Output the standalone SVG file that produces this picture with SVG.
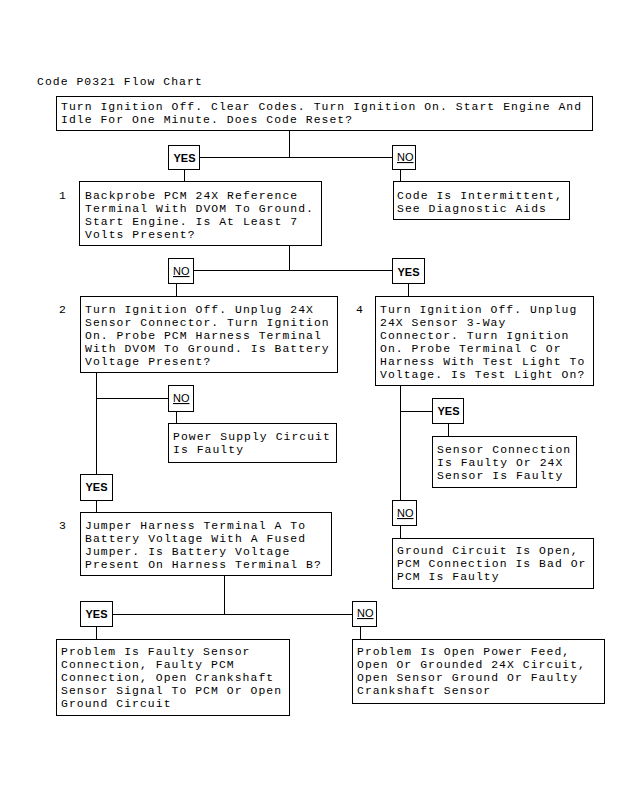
<svg xmlns="http://www.w3.org/2000/svg" width="631" height="791" viewBox="0 0 631 791">
<style>
  .bg{fill:#fff}
  .box{fill:#fff;stroke:#000;stroke-width:1}
  .t{font-family:"Liberation Mono","DejaVu Sans Mono",monospace;font-size:11.4px;letter-spacing:1.06px;fill:#000}
  .yes{font-family:"Liberation Sans",Arial,sans-serif;font-size:11px;font-weight:bold;fill:#000}
  .no{font-family:"Liberation Sans",Arial,sans-serif;font-size:11px;fill:#000;text-decoration:underline}
  .c line{stroke:#000;stroke-width:1}
</style>
<rect class="bg" x="0" y="0" width="631" height="791"/>
<text class="t" x="37" y="85">Code P0321 Flow Chart</text>

<g id="connectors" class="c">
  <line x1="289.5" y1="130.5" x2="289.5" y2="157.5"/>
  <line x1="199.5" y1="157.5" x2="392.5" y2="157.5"/>
  <line x1="184.5" y1="169.5" x2="184.5" y2="181.5"/>
  <line x1="400.5" y1="169.5" x2="400.5" y2="181.5"/>
  <line x1="289.5" y1="245.5" x2="289.5" y2="270.5"/>
  <line x1="193.5" y1="270.5" x2="392.5" y2="270.5"/>
  <line x1="176.5" y1="283.5" x2="176.5" y2="296.5"/>
  <line x1="408.5" y1="283.5" x2="408.5" y2="296.5"/>
  <line x1="96.5" y1="372.5" x2="96.5" y2="474.5"/>
  <line x1="96.5" y1="398.5" x2="168.5" y2="398.5"/>
  <line x1="176.5" y1="411.5" x2="176.5" y2="423.5"/>
  <line x1="96.5" y1="500.5" x2="96.5" y2="512.5"/>
  <line x1="224.5" y1="575.5" x2="224.5" y2="614.5"/>
  <line x1="112.5" y1="614.5" x2="352.5" y2="614.5"/>
  <line x1="96.5" y1="626.5" x2="96.5" y2="639.5"/>
  <line x1="360.5" y1="626.5" x2="360.5" y2="639.5"/>
  <line x1="400.5" y1="385.5" x2="400.5" y2="500.5"/>
  <line x1="400.5" y1="411.5" x2="432.5" y2="411.5"/>
  <line x1="448.5" y1="423.5" x2="448.5" y2="436.5"/>
  <line x1="400.5" y1="525.5" x2="400.5" y2="538.5"/>
</g>

<g id="start">
  <rect class="box" x="56.5" y="96.5" width="536" height="34"/>
  <text class="t" x="61" y="110">Turn Ignition Off. Clear Codes. Turn Ignition On. Start Engine And</text>
  <text class="t" x="61" y="123">Idle For One Minute. Does Code Reset?</text>
</g>

<g id="yes1"><rect class="box" x="168.5" y="145.5" width="31" height="24"/><text class="yes" x="173.5" y="162">YES</text></g>
<g id="no1"><rect class="box" x="392.5" y="145.5" width="23" height="24"/><text class="no" x="397" y="161">NO</text></g>

<g id="step1">
  <text class="t" x="59" y="199">1</text>
  <rect class="box" x="79.5" y="181.5" width="242" height="64"/>
  <text class="t" x="85" y="199">Backprobe PCM 24X Reference</text>
  <text class="t" x="85" y="212">Terminal With DVOM To Ground.</text>
  <text class="t" x="85" y="225">Start Engine. Is At Least 7</text>
  <text class="t" x="85" y="238">Volts Present?</text>
</g>

<g id="intermittent">
  <rect class="box" x="393.5" y="181.5" width="176" height="38"/>
  <text class="t" x="397" y="199">Code Is Intermittent,</text>
  <text class="t" x="397" y="212">See Diagnostic Aids</text>
</g>

<g id="no2"><rect class="box" x="168.5" y="258.5" width="25" height="25"/><text class="no" x="173" y="275">NO</text></g>
<g id="yes2"><rect class="box" x="392.5" y="258.5" width="32" height="25"/><text class="yes" x="397.5" y="276">YES</text></g>

<g id="step2">
  <text class="t" x="59" y="313">2</text>
  <rect class="box" x="80.5" y="296.5" width="257" height="76"/>
  <text class="t" x="85" y="313">Turn Ignition Off. Unplug 24X</text>
  <text class="t" x="85" y="326">Sensor Connector. Turn Ignition</text>
  <text class="t" x="85" y="339">On. Probe PCM Harness Terminal</text>
  <text class="t" x="85" y="352">With DVOM To Ground. Is Battery</text>
  <text class="t" x="85" y="365">Voltage Present?</text>
</g>

<g id="step4">
  <text class="t" x="356" y="313">4</text>
  <rect class="box" x="375.5" y="296.5" width="218" height="89"/>
  <text class="t" x="380" y="313">Turn Ignition Off. Unplug</text>
  <text class="t" x="380" y="326">24X Sensor 3-Way</text>
  <text class="t" x="380" y="339">Connector. Turn Ignition</text>
  <text class="t" x="380" y="352">On. Probe Terminal C Or</text>
  <text class="t" x="380" y="365">Harness With Test Light To</text>
  <text class="t" x="380" y="378">Voltage. Is Test Light On?</text>
</g>

<g id="no3"><rect class="box" x="168.5" y="385.5" width="25" height="26"/><text class="no" x="173" y="402">NO</text></g>

<g id="power">
  <rect class="box" x="168.5" y="423.5" width="168" height="39"/>
  <text class="t" x="173" y="440">Power Supply Circuit</text>
  <text class="t" x="173" y="453">Is Faulty</text>
</g>

<g id="yes3"><rect class="box" x="80.5" y="474.5" width="32" height="26"/><text class="yes" x="85.5" y="491">YES</text></g>

<g id="step3">
  <text class="t" x="59" y="529">3</text>
  <rect class="box" x="80.5" y="512.5" width="251" height="63"/>
  <text class="t" x="85" y="529">Jumper Harness Terminal A To</text>
  <text class="t" x="85" y="542">Battery Voltage With A Fused</text>
  <text class="t" x="85" y="555">Jumper. Is Battery Voltage</text>
  <text class="t" x="85" y="568">Present On Harness Terminal B?</text>
</g>

<g id="yes4"><rect class="box" x="432.5" y="398.5" width="31" height="25"/><text class="yes" x="437.5" y="415">YES</text></g>

<g id="sensor">
  <rect class="box" x="432.5" y="436.5" width="144" height="51"/>
  <text class="t" x="437" y="453">Sensor Connection</text>
  <text class="t" x="437" y="466">Is Faulty Or 24X</text>
  <text class="t" x="437" y="479">Sensor Is Faulty</text>
</g>

<g id="no4"><rect class="box" x="392.5" y="500.5" width="24" height="25"/><text class="no" x="397" y="517">NO</text></g>

<g id="ground">
  <rect class="box" x="392.5" y="538.5" width="201" height="50"/>
  <text class="t" x="397" y="554">Ground Circuit Is Open,</text>
  <text class="t" x="397" y="567">PCM Connection Is Bad Or</text>
  <text class="t" x="397" y="580">PCM Is Faulty</text>
</g>

<g id="yes5"><rect class="box" x="80.5" y="601.5" width="32" height="25"/><text class="yes" x="85.5" y="618">YES</text></g>
<g id="no5"><rect class="box" x="352.5" y="601.5" width="24" height="25"/><text class="no" x="357" y="617">NO</text></g>

<g id="resultA">
  <rect class="box" x="56.5" y="639.5" width="233" height="76"/>
  <text class="t" x="61" y="655">Problem Is Faulty Sensor</text>
  <text class="t" x="61" y="668">Connection, Faulty PCM</text>
  <text class="t" x="61" y="681">Connection, Open Crankshaft</text>
  <text class="t" x="61" y="694">Sensor Signal To PCM Or Open</text>
  <text class="t" x="61" y="707">Ground Circuit</text>
</g>

<g id="resultB">
  <rect class="box" x="352.5" y="639.5" width="252" height="64"/>
  <text class="t" x="357" y="655">Problem Is Open Power Feed,</text>
  <text class="t" x="357" y="668">Open Or Grounded 24X Circuit,</text>
  <text class="t" x="357" y="681">Open Sensor Ground Or Faulty</text>
  <text class="t" x="357" y="694">Crankshaft Sensor</text>
</g>
</svg>
